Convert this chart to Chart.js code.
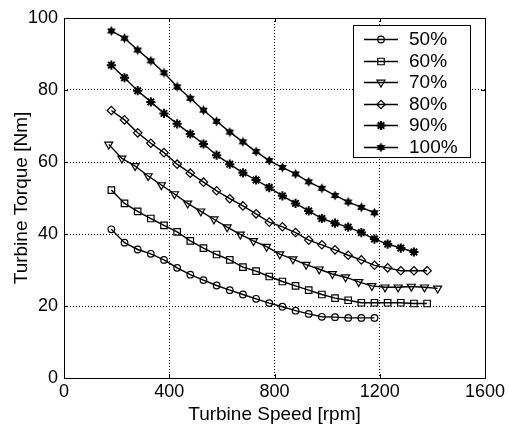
<!DOCTYPE html>
<html>
<head>
<meta charset="utf-8">
<title>Turbine torque vs speed</title>
<script src="https://cdn.jsdelivr.net/npm/chart.js@4.4.0/dist/chart.umd.min.js"></script>
<style>
  html, body { margin: 0; padding: 0; background: #fff; }
  #wrap { width: 509px; height: 427px; }
</style>
</head>
<body>
<div id="wrap"><canvas id="chart" width="509" height="427"></canvas></div>
<script>
// speed grids (rpm) for each gate opening
const speed50 = [180, 230, 280, 330, 380, 430, 480, 530, 580, 630, 680, 730, 780, 830, 880, 930, 980, 1030, 1080, 1130, 1180];
const speed60 = [180, 230, 280, 330, 380, 430, 480, 530, 580, 630, 680, 730, 780, 830, 880, 930, 980, 1030, 1080, 1130, 1180, 1230, 1280, 1330, 1380];
const speed70 = [170, 220, 270, 320, 370, 420, 470, 520, 570, 620, 670, 720, 770, 820, 870, 920, 970, 1020, 1070, 1120, 1170, 1220, 1270, 1320, 1370, 1420];
const speed80 = [180, 230, 280, 330, 380, 430, 480, 530, 580, 630, 680, 730, 780, 830, 880, 930, 980, 1030, 1080, 1130, 1180, 1230, 1280, 1330, 1380];
const speed90 = [180, 230, 280, 330, 380, 430, 480, 530, 580, 630, 680, 730, 780, 830, 880, 930, 980, 1030, 1080, 1130, 1180, 1230, 1280, 1330];
const speed100 = [180, 230, 280, 330, 380, 430, 480, 530, 580, 630, 680, 730, 780, 830, 880, 930, 980, 1030, 1080, 1130, 1180];

// turbine torque (Nm)
const torque50 = [41.3, 37.6, 35.7, 34.5, 32.8, 30.6, 28.7, 27.2, 25.7, 24.4, 23.2, 22.0, 20.8, 19.8, 18.7, 17.8, 17.0, 16.9, 16.7, 16.7, 16.7];
const torque60 = [52.2, 48.5, 46.3, 44.3, 42.4, 40.6, 38.1, 36.1, 34.3, 32.8, 30.8, 29.7, 28.2, 26.8, 25.6, 24.4, 23.2, 22.2, 21.6, 20.9, 20.9, 20.9, 20.9, 20.7, 20.7];
const torque70 = [64.9, 61.0, 58.9, 56.1, 53.6, 51.1, 48.5, 46.3, 44.1, 41.9, 39.9, 38.1, 36.5, 34.4, 33.0, 31.5, 30.2, 28.9, 28.0, 26.7, 25.6, 25.2, 25.2, 25.4, 25.2, 24.9];
const torque80 = [74.3, 71.7, 68.1, 65.2, 62.6, 59.4, 56.9, 54.4, 52.0, 49.8, 47.8, 45.6, 43.3, 42.0, 40.4, 38.3, 37.0, 35.6, 34.1, 32.8, 31.3, 30.6, 29.8, 29.8, 29.8];
const torque90 = [86.9, 83.4, 79.8, 76.7, 73.5, 70.6, 67.8, 65.0, 61.9, 59.4, 57.0, 55.0, 52.9, 50.6, 48.5, 46.4, 44.3, 43.0, 41.9, 40.4, 38.6, 37.2, 36.1, 35.0];
const torque100 = [96.4, 94.4, 91.1, 88.1, 84.8, 80.9, 77.7, 74.4, 71.3, 68.3, 65.6, 62.9, 60.4, 58.5, 56.7, 54.5, 52.7, 50.7, 48.9, 47.4, 45.9];

const seriesLabels = ['50%', '60%', '70%', '80%', '90%', '100%'];
const xTicks = [0, 400, 800, 1200, 1600];
const yTicks = [0, 20, 40, 60, 80, 100];

const FONT = '"Liberation Sans", Arial, Helvetica, sans-serif';

// filled six-point star used as a marker
function hexagram(size) {
  const c = document.createElement('canvas');
  c.width = size; c.height = size;
  const g = c.getContext('2d');
  const cx = size / 2, cy = size / 2, ro = size / 2 - 0.5, ri = ro * 0.55;
  g.beginPath();
  for (let i = 0; i < 12; i++) {
    const a = -Math.PI / 2 + i * Math.PI / 6;
    const r = i % 2 === 0 ? ro : ri;
    g.lineTo(cx + r * Math.cos(a), cy + r * Math.sin(a));
  }
  g.closePath();
  g.fillStyle = '#000';
  g.fill();
  return c;
}
const starImg = hexagram(11);

const markers = [
  { pointStyle: 'circle', radius: 3.3, rotation: 0, borderWidth: 1.2 },
  { pointStyle: 'rect', radius: 4.6, rotation: 0, borderWidth: 1.2 },
  { pointStyle: 'triangle', radius: 4.6, rotation: 180, borderWidth: 1.2 },
  { pointStyle: 'rectRot', radius: 4.2, rotation: 0, borderWidth: 1.2 },
  { pointStyle: 'star', radius: 4.6, rotation: 0, borderWidth: 2 },
  { pointStyle: starImg, radius: 5, rotation: 0, borderWidth: 1 }
];

function toPoints(xs, ys) {
  return xs.map((x, i) => ({ x: x, y: ys[i] }));
}
const allSpeeds = [speed50, speed60, speed70, speed80, speed90, speed100];
const allTorques = [torque50, torque60, torque70, torque80, torque90, torque100];

const datasets = seriesLabels.map((lab, i) => ({
  label: lab,
  data: toPoints(allSpeeds[i], allTorques[i]),
  borderColor: '#000',
  borderWidth: 1.4,
  backgroundColor: 'rgba(0,0,0,0)',
  pointBorderColor: '#000',
  pointBackgroundColor: 'rgba(0,0,0,0)',
  pointStyle: markers[i].pointStyle,
  pointRadius: markers[i].radius,
  pointRotation: markers[i].rotation,
  pointBorderWidth: markers[i].borderWidth,
  pointHoverRadius: markers[i].radius,
  tension: 0,
  fill: false
}));

// axis box, inward ticks and the boxed legend
const frame = {
  id: 'frame',
  afterDraw(chart) {
    const ctx = chart.ctx;
    const a = chart.chartArea;
    const xs = chart.scales.x, ys = chart.scales.y;
    ctx.save();
    ctx.strokeStyle = '#000';
    ctx.lineWidth = 1;
    ctx.setLineDash([]);
    ctx.strokeRect(Math.round(a.left) + 0.5, Math.round(a.top) + 0.5,
      Math.round(a.right - a.left), Math.round(a.bottom - a.top));
    const tl = 4;
    ctx.beginPath();
    xTicks.forEach(v => {
      const px = Math.round(xs.getPixelForValue(v)) + 0.5;
      ctx.moveTo(px, a.bottom); ctx.lineTo(px, a.bottom - tl);
      ctx.moveTo(px, a.top); ctx.lineTo(px, a.top + tl);
    });
    yTicks.forEach(v => {
      const py = Math.round(ys.getPixelForValue(v)) + 0.5;
      ctx.moveTo(a.left, py); ctx.lineTo(a.left + tl, py);
      ctx.moveTo(a.right, py); ctx.lineTo(a.right - tl, py);
    });
    ctx.stroke();

    // legend
    const bx = 353.5, by = 25.5, bw = 117, bh = 132;
    ctx.fillStyle = '#fff';
    ctx.fillRect(bx, by, bw, bh);
    ctx.strokeRect(bx, by, bw, bh);
    const rowY = [39, 61, 82, 104, 125, 147];
    ctx.font = '19px ' + FONT;
    ctx.textBaseline = 'middle';
    ctx.textAlign = 'left';
    seriesLabels.forEach((lab, i) => {
      const y = rowY[i] + 0.5;
      ctx.strokeStyle = '#000';
      ctx.lineWidth = 1.4;
      ctx.beginPath();
      ctx.moveTo(364, y); ctx.lineTo(398, y);
      ctx.stroke();
      const m = markers[i];
      ctx.fillStyle = 'rgba(0,0,0,0)';
      ctx.lineWidth = m.borderWidth;
      Chart.helpers.drawPoint(ctx, {
        pointStyle: m.pointStyle, rotation: m.rotation,
        radius: m.radius, borderWidth: m.borderWidth
      }, 381, y);
      ctx.fillStyle = '#000';
      ctx.fillText(lab, 409, rowY[i] + 1);
    });
    ctx.restore();
  }
};

new Chart(document.getElementById('chart'), {
  type: 'line',
  data: { datasets: datasets },
  options: {
    responsive: false,
    animation: false,
    events: [],
    layout: { padding: { top: 18, right: 24, left: 0, bottom: 0 } },
    plugins: {
      legend: { display: false },
      tooltip: { enabled: false }
    },
    scales: {
      x: {
        type: 'linear',
        min: 0, max: 1600,
        afterBuildTicks: s => { s.ticks = xTicks.map(v => ({ value: v })); },
        afterFit: s => { s.height = 49; },
        grid: { color: '#000', lineWidth: 1, drawTicks: false },
        border: { display: false, dash: [1, 2] },
        ticks: {
          color: '#000', font: { family: FONT, size: 18 }, padding: 3, maxRotation: 0,
          callback: v => String(v)
        },
        title: {
          display: true, text: 'Turbine Speed [rpm]', color: '#000',
          font: { family: FONT, size: 19, lineHeight: 1 },
          padding: { top: 0, bottom: 3 }
        }
      },
      y: {
        type: 'linear',
        min: 0, max: 100,
        afterBuildTicks: s => { s.ticks = yTicks.map(v => ({ value: v })); },
        afterFit: s => { s.width = 64; },
        grid: { color: '#000', lineWidth: 1, drawTicks: false },
        border: { display: false, dash: [1, 2] },
        ticks: { color: '#000', font: { family: FONT, size: 18 }, padding: 6, callback: v => String(v) },
        title: {
          display: true, text: 'Turbine Torque [Nm]', color: '#000',
          font: { family: FONT, size: 19, lineHeight: 1 },
          padding: { top: 12, bottom: 0 }
        }
      }
    }
  },
  plugins: [frame]
});
</script>
</body>
</html>
